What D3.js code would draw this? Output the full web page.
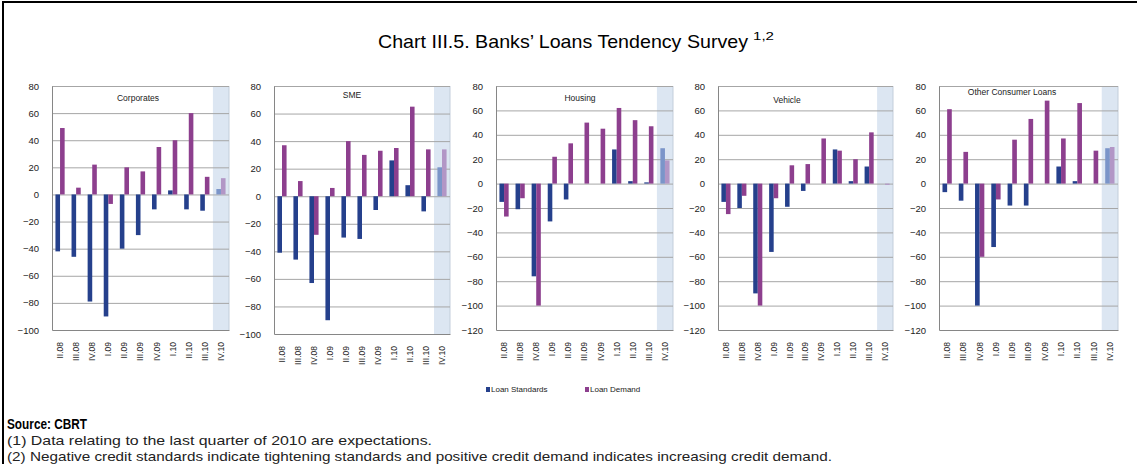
<!DOCTYPE html>
<html>
<head>
<meta charset="utf-8">
<script src="https://cdn.jsdelivr.net/npm/d3@7/dist/d3.min.js"></script>
<style>
  html, body { margin: 0; padding: 0; background: #ffffff; }
  svg { display: block; }
  text { font-family: "Liberation Sans", Arial, sans-serif; }
</style>
</head>
<body>
<script>
// ---------------- DATA ----------------
const categories = ["II.08","III.08","IV.08","I.09","II.09","III.09","IV.09","I.10","II.10","III.10","IV.10"];
const panelNames = ["Corporates","SME","Housing","Vehicle","Other Consumer Loans"];
const seriesNames = ["Loan Standards","Loan Demand"];

const corporatesStandards = [-42,-46,-79,-90,-40,-30,-11,3,-11,-12,4];
const corporatesDemand    = [49,5,22,-7,20,17,35,40,60,13,12];

const smeStandards = [-41,-46,-63,-90,-30,-31,-10,26,8,-11,21];
const smeDemand    = [37,11,-28,6,40,30,33,35,65,34,34];

const housingStandards = [-15,-21,-76,-31,-13,0,0,28,2,1,29];
const housingDemand    = [-27,-12,-100,22,33,50,45,62,52,47,19];

const vehicleStandards = [-15,-20,-90,-56,-19,-6,0,28,2,14,0];
const vehicleDemand    = [-25,-10,-100,-12,15,16,37,27,20,42,-1];

const otherStandards = [-7,-14,-100,-52,-18,-18,0,14,2,0,29];
const otherDemand    = [61,26,-60,-13,36,53,68,37,66,27,30];

const yMins = [-100,-100,-120,-120,-120];
const yMax = 80;
const yStep = 20;

const titleText = "Chart III.5. Banks\u2019 Loans Tendency Survey";
const titleSup = "1,2";
const sourceText = "Source: CBRT";
const noteLines = [
  "(1)  Data relating to the last quarter of 2010 are expectations.",
  "(2)  Negative credit standards indicate tightening standards and positive credit demand indicates increasing credit demand."
];

// ---------------- LAYOUT ----------------
const W = 1137, H = 464;
const layout = [
  {left: 52,  right: 229,  top: 86, bottom: 330, tx: 138,  ty: 101},
  {left: 274, right: 450,  top: 86, bottom: 334, tx: 352,  ty: 98},
  {left: 496, right: 673,  top: 86, bottom: 330, tx: 580,  ty: 101},
  {left: 718, right: 893,  top: 86, bottom: 330, tx: 787,  ty: 103},
  {left: 939, right: 1118, top: 86, bottom: 330, tx: 1012, ty: 95}
];
const colors = {
  std: "#25408c", dem: "#8d3f8e",
  stdF: "#7b95c9", demF: "#b296c6",
  band: "#dce6f2", grid: "#a6a6a6", axis: "#868686"
};

const panels = [
  [corporatesStandards, corporatesDemand],
  [smeStandards, smeDemand],
  [housingStandards, housingDemand],
  [vehicleStandards, vehicleDemand],
  [otherStandards, otherDemand]
];

const svg = d3.select("body").append("svg").attr("width", W).attr("height", H);
svg.append("rect").attr("width", W).attr("height", H).attr("fill", "#fff");

// outer frame (top + left)
svg.append("line").attr("x1", 2).attr("x2", W).attr("y1", 2).attr("y2", 2)
  .attr("stroke", "#000").attr("stroke-width", 2);
svg.append("line").attr("x1", 3).attr("x2", 3).attr("y1", 1).attr("y2", H)
  .attr("stroke", "#000").attr("stroke-width", 2);

// title
svg.append("text").attr("x", 378).attr("y", 48)
  .attr("font-size", 19).attr("fill", "#000")
  .attr("textLength", 370).attr("lengthAdjust", "spacingAndGlyphs")
  .text(titleText);
svg.append("text").attr("x", 753).attr("y", 40).attr("font-size", 11)
  .attr("fill", "#000").attr("textLength", 21).attr("lengthAdjust", "spacingAndGlyphs")
  .text(titleSup);

panels.forEach((p, i) => {
  const L = layout[i];
  const g = svg.append("g");
  const x = d3.scaleBand().domain(categories).range([L.left, L.right]).padding(0);
  const xs = d3.scaleBand().domain(seriesNames).range([0, x.bandwidth()])
    .paddingInner(0).paddingOuter(0.75);
  const y = d3.scaleLinear().domain([yMins[i], yMax]).range([L.bottom, L.top]);
  const ticks = d3.range(yMins[i], yMax + 1, yStep);

  // forecast band
  const last = categories[categories.length - 1];
  g.append("rect").attr("x", x(last)).attr("y", L.top)
    .attr("width", L.right - x(last)).attr("height", L.bottom - L.top)
    .attr("fill", colors.band);
  g.append("line").attr("x1", L.right).attr("x2", L.right)
    .attr("y1", L.top).attr("y2", L.bottom).attr("stroke", "#c3cedb").attr("stroke-width", 1);

  // gridlines
  const grid = g.append("g").attr("transform", `translate(${L.left},0)`)
    .call(d3.axisLeft(y).tickValues(ticks.filter(t => t !== yMins[i]))
      .tickSize(-(L.right - L.left)).tickFormat(""));
  grid.select(".domain").remove();
  grid.selectAll("line").attr("stroke", colors.grid).attr("stroke-width", 1);

  // bars
  seriesNames.forEach((s, k) => {
    const vals = p[k];
    g.append("g").selectAll("rect").data(vals).join("rect")
      .attr("x", (d, j) => x(categories[j]) + xs(s))
      .attr("width", xs.bandwidth())
      .attr("y", d => y(Math.max(0, d)))
      .attr("height", d => Math.abs(y(d) - y(0)))
      .attr("fill", (d, j) => j === categories.length - 1
        ? (k === 0 ? colors.stdF : colors.demF)
        : (k === 0 ? colors.std : colors.dem));
  });

  // y axis
  const ya = g.append("g").attr("transform", `translate(${L.left},0)`)
    .call(d3.axisLeft(y).tickValues(ticks).tickSize(0).tickSizeOuter(0).tickPadding(13));
  ya.select(".domain").attr("stroke", colors.axis);
  ya.selectAll("text").attr("font-size", 9.5).attr("fill", "#222")
    .attr("font-family", "Liberation Sans, Arial, sans-serif");

  // x axis
  const xa = g.append("g").attr("transform", `translate(0,${L.bottom})`)
    .call(d3.axisBottom(x).tickSize(0).tickSizeOuter(0));
  xa.select(".domain").attr("stroke", colors.axis);
  xa.selectAll("text")
    .attr("transform", "rotate(-90)")
    .attr("text-anchor", "end")
    .attr("x", -12).attr("y", 0).attr("dy", "0.35em")
    .attr("font-size", 8.5).attr("fill", "#222")
    .attr("font-family", "Liberation Sans, Arial, sans-serif");

  // panel title
  g.append("text").attr("x", L.tx).attr("y", L.ty).attr("text-anchor", "middle")
    .attr("font-size", 8.5).attr("fill", "#222").text(panelNames[i]);
});

// legend
const legendX = [486, 585];
seriesNames.forEach((s, k) => {
  svg.append("rect").attr("x", legendX[k]).attr("y", 387).attr("width", 4).attr("height", 5)
    .attr("fill", k === 0 ? colors.std : colors.dem);
  svg.append("text").attr("x", legendX[k] + 5).attr("y", 392).attr("font-size", 8)
    .attr("fill", "#222").text(s);
});

// footer
svg.append("text").attr("x", 7).attr("y", 429).attr("font-size", 14.5).attr("font-weight", "bold")
  .attr("fill", "#000").attr("textLength", 80).attr("lengthAdjust", "spacingAndGlyphs")
  .text(sourceText);
const noteLens = [425, 825];
const noteYs = [445, 461];
noteLines.forEach((t, k) => {
  svg.append("text").attr("x", 7).attr("y", noteYs[k]).attr("font-size", 13.5)
    .attr("fill", "#222").attr("textLength", noteLens[k]).attr("lengthAdjust", "spacingAndGlyphs")
    .text(t);
});
</script>
</body>
</html>
